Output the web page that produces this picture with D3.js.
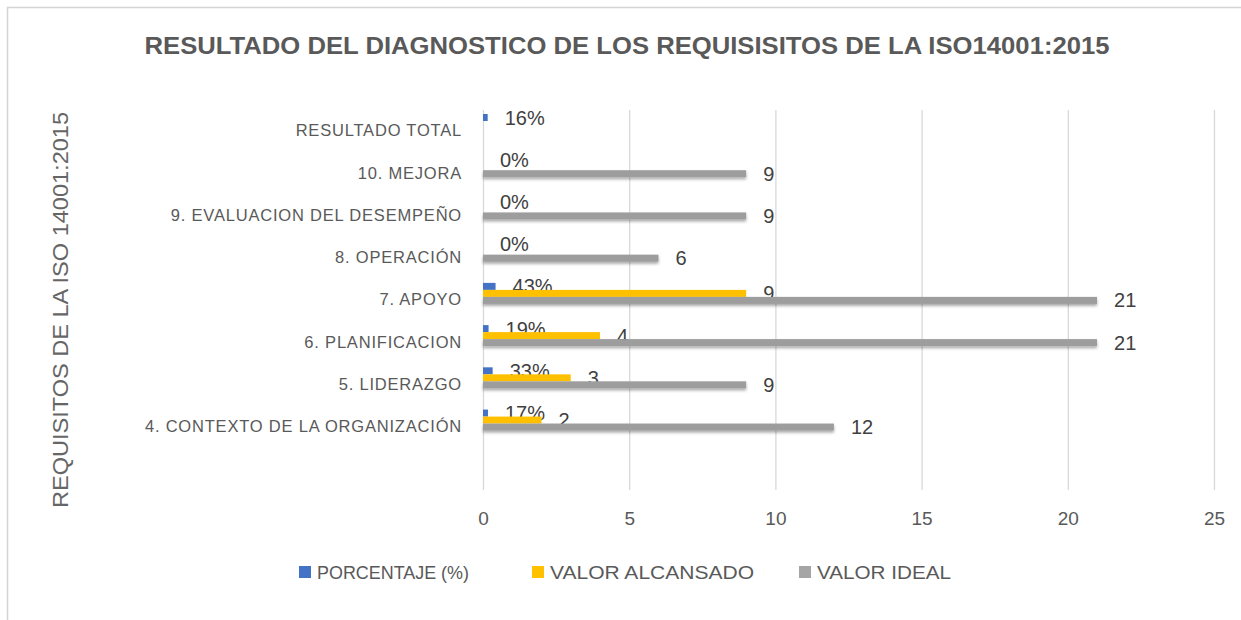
<!DOCTYPE html>
<html>
<head>
<meta charset="utf-8">
<script src="https://cdn.jsdelivr.net/npm/d3@7"></script>
<style>
    body { margin: 0; background: #ffffff; }
    text { font-family: "Liberation Sans", Arial, sans-serif; }
</style>
</head>
<body>
<div id="chart"></div>
<script>
// The data... (bottom category first, like the sheet)
var categories = [ '', '4.  CONTEXTO DE LA ORGANIZACIÓN', '5. LIDERAZGO', '6. PLANIFICACION',
                   '7. APOYO', '8. OPERACIÓN', '9. EVALUACION DEL DESEMPEÑO', '10. MEJORA',
                   'RESULTADO TOTAL' ];

var porcentaje     = [ null, 0.17, 0.33, 0.19, 0.43, 0, 0, 0, 0.16 ];
var valorAlcansado = [ null, 2, 3, 4, 9, null, null, null, null ];
var valorIdeal     = [ null, 12, 9, 21, 21, 6, 9, 9, null ];

var seriesNames   = [ 'PORCENTAJE (%)', 'VALOR ALCANSADO', 'VALOR IDEAL' ];
var seriesColours = [ '#4472c4', '#ffc000', '#a5a5a5' ];

var xTicks = [ 0, 5, 10, 15, 20, 25 ];

var titleText  = 'RESULTADO DEL DIAGNOSTICO DE LOS REQUISISITOS DE LA ISO14001:2015';
var yTitleText = 'REQUISITOS DE LA ISO 14001:2015';

// SVG size and plot area
var W = 1241, H = 620;
var plot = { left: 483, right: 1214, top: 110, bottom: 490 };

var svg = d3.select('#chart').append('svg')
            .attr('width', W)
            .attr('height', H);

// shadow for the grey bars
var defs = svg.append('defs');
var flt = defs.append('filter').attr('id', 'shadow')
              .attr('x', '-5%').attr('y', '-60%').attr('width', '110%').attr('height', '220%');
flt.append('feDropShadow')
   .attr('dx', 0).attr('dy', 2).attr('stdDeviation', 1.5)
   .attr('flood-color', '#000').attr('flood-opacity', 0.35);

// chart border
svg.append('rect')
   .attr('x', 7.5).attr('y', 7.5)
   .attr('width', 1400).attr('height', 800)
   .attr('fill', 'none')
   .attr('stroke', '#d4d4d4')
   .attr('stroke-width', 1.5);

// scales
var xScale = d3.scaleLinear()
               .domain([ 0, 25 ])
               .range([ plot.left, plot.right ]);

var yScale = d3.scaleBand()
               .domain(categories.slice().reverse())
               .range([ plot.top, plot.bottom ]);

var subScale = d3.scaleBand()
                 .domain([ 0, 1, 2 ])
                 .range([ 4, 25 ]);

// gridlines
var grid = svg.append('g')
              .attr('transform', 'translate(0,' + plot.bottom + ')')
              .call(d3.axisBottom(xScale).tickValues(xTicks)
                      .tickSize(-(plot.bottom - plot.top)).tickFormat(''));
grid.select('.domain').remove();
grid.selectAll('line').attr('stroke', '#d9d9d9').attr('stroke-width', 1.3);

// x axis labels
var xAxis = svg.append('g')
               .attr('transform', 'translate(0,' + plot.bottom + ')')
               .call(d3.axisBottom(xScale).tickValues(xTicks).tickSize(0).tickPadding(22));
xAxis.select('.domain').remove();
xAxis.selectAll('text')
     .attr('font-size', '19px')
     .attr('fill', '#595959')
     .style('font-family', '"Liberation Sans", Arial, sans-serif');

// category labels
var yAxis = svg.append('g')
               .attr('transform', 'translate(' + plot.left + ',0)')
               .call(d3.axisLeft(yScale).tickSize(0).tickPadding(21));
yAxis.select('.domain').remove();
yAxis.selectAll('text')
     .attr('font-size', '16.5px')
     .attr('fill', '#595959')
     .attr('letter-spacing', '0.8px')
     .style('font-family', '"Liberation Sans", Arial, sans-serif');

// bars + labels for each series
var allSeries = [ porcentaje, valorAlcansado, valorIdeal ];
var fmtPct = d3.format('.0%');

allSeries.forEach(function (values, s)
{
    var rows = categories.map(function (c, i) { return { cat: c, v: values[i] }; })
                         .filter(function (d) { return d.v !== null; });

    // percent series is drawn on the same axis as a fraction
    svg.append('g')
       .attr('filter', s == 2 ? 'url(#shadow)' : null)
       .selectAll('rect')
       .data(rows)
       .enter()
       .append('rect')
       .attr('x', xScale(0))
       .attr('y', function (d) { return yScale(d.cat) + subScale(s); })
       .attr('width', function (d) { return xScale(d.v) - xScale(0); })
       .attr('height', subScale.bandwidth())
       .attr('fill', s == 2 ? '#9d9d9d' : seriesColours[s]);

    svg.append('g')
       .selectAll('text')
       .data(rows)
       .enter()
       .append('text')
       .attr('x', function (d) { return xScale(d.v) + 17; })
       .attr('y', function (d) { return yScale(d.cat) + subScale(s) + subScale.bandwidth() / 2; })
       .attr('dy', '0.35em')
       .attr('font-size', '20px')
       .attr('fill', '#404040')
       .text(function (d) { return s == 0 ? fmtPct(d.v) : d.v; });
});

// title
svg.append('text')
   .attr('x', 627)
   .attr('y', 54)
   .attr('text-anchor', 'middle')
   .attr('font-size', '24px')
   .attr('font-weight', 'bold')
   .attr('fill', '#595959')
   .attr('textLength', 965)
   .attr('lengthAdjust', 'spacingAndGlyphs')
   .text(titleText);

// y axis title
svg.append('text')
   .attr('transform', 'translate(68,310) rotate(-90)')
   .attr('text-anchor', 'middle')
   .attr('font-size', '22px')
   .attr('fill', '#666666')
   .attr('textLength', 396)
   .attr('lengthAdjust', 'spacingAndGlyphs')
   .text(yTitleText);

// legend
var legendX = [ 299, 532, 799 ];
var legendW = [ 152, 204, 134 ];
var legend = svg.append('g');
seriesNames.forEach(function (name, i)
{
    legend.append('rect')
          .attr('x', legendX[i]).attr('y', 566)
          .attr('width', 12).attr('height', 12)
          .attr('fill', seriesColours[i]);
    legend.append('text')
          .attr('x', legendX[i] + 18).attr('y', 572)
          .attr('dy', '0.35em')
          .attr('font-size', '19px')
          .attr('fill', '#595959')
          .attr('textLength', legendW[i])
          .attr('lengthAdjust', 'spacingAndGlyphs')
          .text(name);
});
</script>
</body>
</html>
